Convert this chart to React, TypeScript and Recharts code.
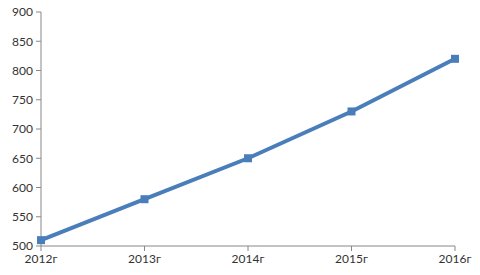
import { LineChart, Line, XAxis, YAxis } from "recharts";

const years = ["2012г", "2013г", "2014г", "2015г", "2016г"];
const values = [510, 580, 650, 730, 820];
const yTicks = [500, 550, 600, 650, 700, 750, 800, 850, 900];

const data = years.map((year, i) => ({ year, value: values[i] }));

const SquareDot = (props: any) => {
  const { cx, cy } = props;
  if (cx == null || cy == null) return null;
  return <rect x={cx - 4} y={cy - 4} width={8} height={8} fill="#4a7ebb" />;
};

export default function App() {
  return (
    <div style={{ position: "absolute", left: 0, top: 0, background: "#fff" }}>
      <LineChart
        width={480}
        height={275}
        data={data}
        margin={{ top: 12, right: 25, bottom: 5, left: 5 }}
      >
        <XAxis
          dataKey="year"
          height={24}
          stroke="#888"
          tickSize={5}
          tickMargin={3}
          tick={{ fill: "#333", fontSize: 12, fontFamily: "Lato" }}
          interval={0}
        />
        <YAxis
          width={36}
          domain={[500, 900]}
          ticks={yTicks}
          stroke="#888"
          tickSize={5}
          tickMargin={3}
          tick={{ fill: "#333", fontSize: 12, fontFamily: "Lato" }}
        />
        <Line
          dataKey="value"
          stroke="#4a7ebb"
          strokeWidth={4}
          dot={<SquareDot />}
          activeDot={false}
          isAnimationActive={false}
        />
      </LineChart>
    </div>
  );
}
